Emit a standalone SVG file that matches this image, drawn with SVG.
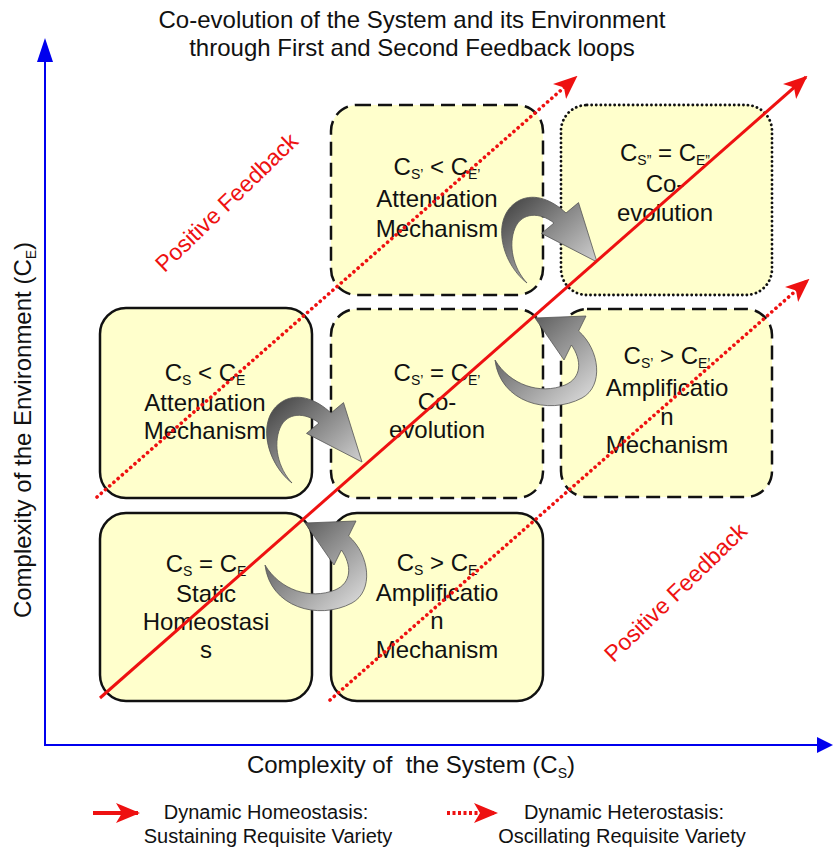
<svg xmlns="http://www.w3.org/2000/svg" width="833" height="849" viewBox="0 0 833 849">
<style>
  text { font-family: "Liberation Sans", Arial, sans-serif; fill: #111; }
  .box { fill: #ffffcc; stroke: #111; stroke-width: 2.5; }
  .dash { stroke-dasharray: 14 7; }
  .dot { stroke-dasharray: 0.1 4.5; stroke-linecap: round; stroke-width: 2.8; }
  .bt { font-size: 24px; text-anchor: middle; }
  .sub { font-size: 14px; }
  .title { font-size: 24px; text-anchor: middle; }
  .axl { font-size: 24px; text-anchor: middle; }
  .leg { font-size: 20px; text-anchor: middle; }
  .pf { font-size: 23px; fill: #ee1111; text-anchor: middle; }
  .red { stroke: #ee1111; fill: none; }
  .solid { stroke-width: 3; }
  .reddot { stroke-width: 3.6; stroke-dasharray: 0.1 5.5; stroke-linecap: round; }
  .axis { stroke: #0000ee; stroke-width: 2; fill: none; }
  .loop { fill: url(#gray); stroke: #555; stroke-width: 0.8; }
</style>
<defs>
  <marker id="redhead" viewBox="0 0 24 20" refX="22" refY="10" markerWidth="24" markerHeight="20" markerUnits="userSpaceOnUse" orient="auto">
    <path d="M0,0 L24,10 L0,20 L6,10 Z" fill="#ee1111" stroke="none"/>
  </marker>
  <linearGradient id="gray" x1="0" y1="0" x2="1" y2="1">
    <stop offset="0" stop-color="#3c3c3c"/>
    <stop offset="0.45" stop-color="#8a8a8a"/>
    <stop offset="1" stop-color="#e4e4e4"/>
  </linearGradient>
</defs>
<rect width="833" height="849" fill="#ffffff"/>

<g id="title">
  <text class="title" x="412" y="28">Co-evolution of the System and its Environment</text>
  <text class="title" x="412" y="56">through First and Second Feedback loops</text>
</g>

<g id="axes">
  <line class="axis" x1="45" y1="746" x2="45" y2="58"/>
  <polygon points="45,38 37,62 53,62" fill="#0000ee"/>
  <line class="axis" x1="44" y1="745" x2="818" y2="745"/>
  <polygon points="833,745 817,737 817,753" fill="#0000ee"/>
  <text class="axl" transform="translate(31,430) rotate(-90)">Complexity of the Environment (C<tspan class="sub" dy="5">E</tspan><tspan dy="-5">)</tspan></text>
  <text class="axl" x="411" y="773">Complexity of&#160; the System (C<tspan class="sub" dy="5">S</tspan><tspan dy="-5">)</tspan></text>
</g>

<g id="node-top-middle">
  <rect class="box dash" x="331" y="105" width="212" height="190" rx="26"/>
  <text class="bt" x="437" y="175">C<tspan class="sub" dy="4">S’</tspan><tspan dy="-4"> &lt; C</tspan><tspan class="sub" dy="4">E’</tspan></text>
  <text class="bt" x="437" y="207">Attenuation</text>
  <text class="bt" x="437" y="237">Mechanism</text>
</g>

<g id="node-top-right">
  <rect class="box dot" x="561" y="105" width="211" height="190" rx="26"/>
  <text class="bt" x="665" y="161">C<tspan class="sub" dy="4">S”</tspan><tspan dy="-4"> = C</tspan><tspan class="sub" dy="4">E”</tspan></text>
  <text class="bt" x="665" y="192">Co-</text>
  <text class="bt" x="665" y="221">evolution</text>
</g>

<g id="node-middle-left">
  <rect class="box" x="100" y="308" width="212" height="190" rx="26"/>
  <text class="bt" x="205" y="381">C<tspan class="sub" dy="4">S</tspan><tspan dy="-4"> &lt; C</tspan><tspan class="sub" dy="4">E</tspan></text>
  <text class="bt" x="205" y="411">Attenuation</text>
  <text class="bt" x="205" y="439">Mechanism</text>
</g>

<g id="node-middle-middle">
  <rect class="box dash" x="331" y="309" width="212" height="189" rx="26"/>
  <text class="bt" x="437" y="381">C<tspan class="sub" dy="4">S’</tspan><tspan dy="-4"> = C</tspan><tspan class="sub" dy="4">E’</tspan></text>
  <text class="bt" x="437" y="410">Co-</text>
  <text class="bt" x="437" y="438">evolution</text>
</g>

<g id="node-middle-right">
  <rect class="box dash" x="561" y="309" width="211" height="188" rx="26"/>
  <text class="bt" x="667" y="364">C<tspan class="sub" dy="4">S’</tspan><tspan dy="-4"> &gt; C</tspan><tspan class="sub" dy="4">E’</tspan></text>
  <text class="bt" x="667" y="396">Amplificatio</text>
  <text class="bt" x="667" y="425">n</text>
  <text class="bt" x="667" y="453">Mechanism</text>
</g>

<g id="node-bottom-left">
  <rect class="box" x="100" y="513" width="212" height="188" rx="26"/>
  <text class="bt" x="206" y="572">C<tspan class="sub" dy="4">S</tspan><tspan dy="-4"> = C</tspan><tspan class="sub" dy="4">E</tspan></text>
  <text class="bt" x="206" y="602">Static</text>
  <text class="bt" x="206" y="630">Homeostasi</text>
  <text class="bt" x="206" y="658">s</text>
</g>

<g id="node-bottom-middle">
  <rect class="box" x="331" y="513" width="212" height="188" rx="26"/>
  <text class="bt" x="437" y="571">C<tspan class="sub" dy="4">S</tspan><tspan dy="-4"> &gt; C</tspan><tspan class="sub" dy="4">E</tspan></text>
  <text class="bt" x="437" y="601">Amplificatio</text>
  <text class="bt" x="437" y="629">n</text>
  <text class="bt" x="437" y="658">Mechanism</text>
</g>

<g id="connectors">
  <path id="loop-top" class="loop" d="M527,283 C500,262 490,215 520,200 C535,193 552,200 566,213 L578.5,202.6 L597,262 L541.5,233.4 L554,223 C540,212 522,212 515,228 C508,245 513,268 527,283 Z"/>
  <path id="loop-middle" class="loop" transform="translate(-235,200)" d="M527,283 C500,262 490,215 520,200 C535,193 552,200 566,213 L578.5,202.6 L597,262 L541.5,233.4 L554,223 C540,212 522,212 515,228 C508,245 513,268 527,283 Z"/>
  <path id="loop-right" class="loop" d="M495,360 C500,402 548,416 582,398 C604,386 600,350 578.6,331 L586,316 L535,318 L564,360 L571.4,345 C582,360 582,378 565,385 C540,395 510,385 495,360 Z"/>
  <path id="loop-bottom" class="loop" transform="translate(-230,205)" d="M495,360 C500,402 548,416 582,398 C604,386 600,350 578.6,331 L586,316 L535,318 L564,360 L571.4,345 C582,360 582,378 565,385 C540,395 510,385 495,360 Z"/>

  <line class="red reddot" x1="97" y1="497" x2="576" y2="77" marker-end="url(#redhead)"/>
  <line class="red reddot" x1="330" y1="700" x2="808" y2="280" marker-end="url(#redhead)"/>
  <line class="red solid" x1="100" y1="698" x2="806" y2="77" marker-end="url(#redhead)"/>
</g>

<g id="feedback-labels">
  <text class="pf" transform="translate(232,208) rotate(-44)">Positive Feedback</text>
  <text class="pf" transform="translate(681,598) rotate(-44)">Positive Feedback</text>
</g>

<g id="legend">
  <line class="red" stroke-width="4" x1="93" y1="813" x2="138" y2="813" marker-end="url(#redhead)"/>
  <text class="leg" x="266" y="819">Dynamic Homeostasis:</text>
  <text class="leg" x="268" y="843">Sustaining Requisite Variety</text>
  <line class="red" stroke-width="4" stroke-dasharray="3 2.5" x1="447" y1="813" x2="496" y2="813" marker-end="url(#redhead)"/>
  <text class="leg" x="624" y="819">Dynamic Heterostasis:</text>
  <text class="leg" x="622" y="843">Oscillating Requisite Variety</text>
</g>
</svg>
